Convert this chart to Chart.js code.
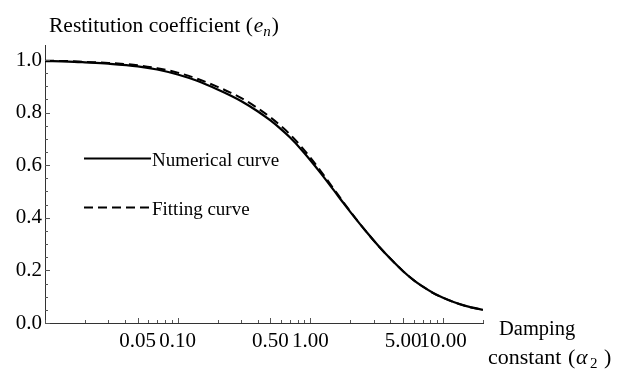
<!DOCTYPE html>
<html>
<head>
<meta charset="utf-8">
<script src="https://cdn.jsdelivr.net/npm/chart.js@4.4.1/dist/chart.umd.min.js"></script>
<style>
    body { margin: 0; background: #fff; }
    #wrap { position: relative; width: 619px; height: 371px; }
</style>
</head>
<body>
<div id="wrap"><canvas id="restitutionChart"></canvas></div>
<script>
// ===== DATA =====
const alphaValues = [0.01, 0.015, 0.02, 0.03, 0.05, 0.07, 0.1, 0.14, 0.2, 0.25, 0.3, 0.4, 0.5, 0.6, 0.7, 0.85,
    1.0, 1.2, 1.5, 1.8, 2.2, 2.7, 3.3, 4.0, 5.0, 6.0, 7.0, 8.5, 10, 12, 15, 20];
const numericalValues = [0.996, 0.994, 0.991, 0.986, 0.976, 0.964, 0.945, 0.921, 0.888, 0.865, 0.844, 0.805, 0.770, 0.737, 0.706, 0.661,
    0.619, 0.569, 0.505, 0.452, 0.396, 0.341, 0.290, 0.245, 0.197, 0.163, 0.139, 0.113, 0.096, 0.080, 0.064, 0.050];
const fittingValues = [0.997, 0.996, 0.993, 0.989, 0.980, 0.969, 0.952, 0.929, 0.898, 0.876, 0.856, 0.817, 0.782, 0.749, 0.718, 0.672,
    0.629, 0.577, 0.510, 0.455, 0.397, 0.341, 0.290, 0.245, 0.197, 0.163, 0.139, 0.113, 0.096, 0.080, 0.064, 0.050];
const xTickValues = [0.05, 0.1, 0.5, 1, 5, 10];
const yTickValues = [0, 0.2, 0.4, 0.6, 0.8, 1.0];
const seriesNames = ['Numerical curve', 'Fitting curve'];

const FONT = 'Liberation Serif, Times New Roman, serif';
const DASH = [9, 5];

function toPoints(values) {
    return alphaValues.map((a, i) => ({ x: a, y: values[i] }));
}

// inward tick marks (major + minor)
const tickMarks = {
    id: 'tickMarks',
    afterDraw(chart) {
        const ctx = chart.ctx;
        const xs = chart.scales.x;
        const ys = chart.scales.y;
        const bottom = chart.chartArea.bottom;
        const left = chart.chartArea.left;
        ctx.save();
        ctx.strokeStyle = '#555';
        ctx.lineWidth = 1;
        ctx.beginPath();
        for (let k = -2; k <= 1; k++) {
            for (let m = 1; m <= 9; m++) {
                const v = m * Math.pow(10, k);
                if (v < xs.min || v > xs.max) continue;
                const major = xTickValues.some(t => Math.abs(t - v) < 1e-9);
                const px = Math.round(xs.getPixelForValue(v)) + 0.5;
                ctx.moveTo(px, bottom);
                ctx.lineTo(px, bottom - (major ? 5 : 3));
            }
        }
        for (let v = 0; v <= 1.0001; v += 0.05) {
            const major = Math.abs(v * 5 - Math.round(v * 5)) < 1e-6;
            const py = Math.round(ys.getPixelForValue(v)) + 0.5;
            ctx.moveTo(left, py);
            ctx.lineTo(left + (major ? 5 : 3), py);
        }
        ctx.stroke();
        ctx.restore();
    }
};

// axis titles and legend
const annotations = {
    id: 'annotations',
    afterDraw(chart) {
        const ctx = chart.ctx;
        ctx.save();
        ctx.fillStyle = '#000';
        ctx.textBaseline = 'alphabetic';

        // y title
        ctx.font = '21.5px ' + FONT;
        let x = 49;
        let txt = 'Restitution coefficient (';
        ctx.fillText(txt, x, 32);
        x += ctx.measureText(txt).width + 1;
        ctx.font = 'italic 21.5px ' + FONT;
        ctx.fillText('e', x, 32);
        x += ctx.measureText('e').width;
        ctx.font = 'italic 15px ' + FONT;
        ctx.fillText('n', x, 36);
        x += ctx.measureText('n').width + 1;
        ctx.font = '21.5px ' + FONT;
        ctx.fillText(')', x, 32);

        // x title
        ctx.font = '20.5px ' + FONT;
        ctx.fillText('Damping', 499, 335);
        ctx.font = '22px ' + FONT;
        ctx.fillText('constant', 488, 364);
        ctx.fillText('(', 568, 364);
        ctx.font = 'italic 22px ' + FONT;
        ctx.fillText('\u03b1', 576, 364);
        ctx.font = '15px ' + FONT;
        ctx.fillText('2', 590, 368);
        ctx.font = '22px ' + FONT;
        ctx.fillText(')', 604, 364);

        // legend
        const rows = [{ y: 158.5, dash: [] }, { y: 207.5, dash: DASH }];
        rows.forEach((r, i) => {
            ctx.strokeStyle = '#000';
            ctx.lineWidth = 2;
            ctx.setLineDash(r.dash);
            ctx.beginPath();
            ctx.moveTo(84, r.y);
            ctx.lineTo(151, r.y);
            ctx.stroke();
            ctx.setLineDash([]);
            ctx.font = '19px ' + FONT;
            ctx.fillText(seriesNames[i], 152, r.y + 7);
        });
        ctx.restore();
    }
};

const ctx = document.getElementById('restitutionChart');

new Chart(ctx, {
    type: 'line',
    data: {
        datasets: [{
            label: seriesNames[0],
            data: toPoints(numericalValues),
            borderColor: '#000',
            borderWidth: 2.2,
            pointRadius: 0,
            cubicInterpolationMode: 'monotone',
            fill: false
        }, {
            label: seriesNames[1],
            data: toPoints(fittingValues),
            borderColor: '#000',
            borderWidth: 2,
            borderDash: DASH,
            pointRadius: 0,
            cubicInterpolationMode: 'monotone',
            fill: false
        }]
    },
    options: {
        responsive: true,
        maintainAspectRatio: false,
        animation: false,
        events: [],
        layout: {
            padding: { left: 0, top: 45, right: 136, bottom: 0 }
        },
        plugins: {
            legend: { display: false },
            tooltip: { enabled: false },
            title: { display: false }
        },
        scales: {
            x: {
                type: 'logarithmic',
                min: 0.01,
                max: 20,
                afterBuildTicks: (scale) => {
                    scale.ticks = xTickValues.map(v => ({ value: v }));
                },
                afterFit: (scale) => { scale.height = 48; },
                ticks: {
                    autoSkip: false,
                    maxRotation: 0,
                    padding: 6,
                    color: '#000',
                    font: { family: FONT, size: 21 },
                    callback: (v) => Number(v).toFixed(2)
                },
                grid: { display: true, drawOnChartArea: false, drawTicks: false },
                border: { display: true, color: '#333', width: 1 }
            },
            y: {
                type: 'linear',
                min: 0,
                max: 1.057,
                afterBuildTicks: (scale) => {
                    scale.ticks = yTickValues.map(v => ({ value: v }));
                },
                afterFit: (scale) => { scale.width = 45; },
                ticks: {
                    padding: 3,
                    color: '#000',
                    font: { family: FONT, size: 21 },
                    callback: (v) => Number(v).toFixed(1)
                },
                grid: { display: true, drawOnChartArea: false, drawTicks: false },
                border: { display: true, color: '#333', width: 1 }
            }
        }
    },
    plugins: [tickMarks, annotations]
});
</script>
</body>
</html>
